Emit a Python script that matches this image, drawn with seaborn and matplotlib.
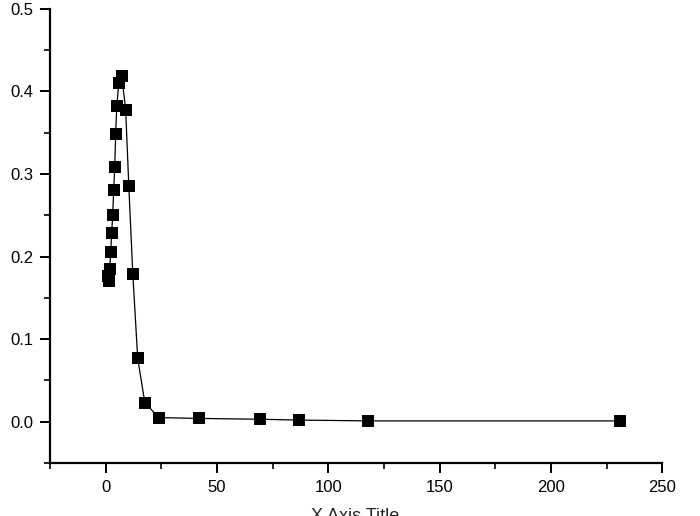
import pandas as pd
import seaborn as sns
import matplotlib.pyplot as plt
from matplotlib.ticker import MultipleLocator

# data
x_vals = [0.9, 1.4, 1.8, 2.3, 2.7, 3.2, 3.6, 4.1, 4.5, 5.0, 5.9, 7.2,
          9.0, 10.4, 12.2, 14.4, 17.6, 23.9, 42.0, 69.5, 87.0, 118.0, 231.0]
y_vals = [0.176, 0.170, 0.185, 0.206, 0.229, 0.251, 0.281, 0.309, 0.349, 0.382, 0.410, 0.419,
          0.378, 0.286, 0.179, 0.077, 0.023, 0.005, 0.004, 0.003, 0.002, 0.001, 0.001]

df = pd.DataFrame({'x': x_vals, 'y': y_vals})

sns.set_style('white')
plt.rcParams['font.family'] = ['Liberation Sans', 'DejaVu Sans']

fig = plt.figure(figsize=(7, 5.16), dpi=100)
ax = fig.add_axes([0.0714, 0.1027, 0.8746, 0.88])

sns.lineplot(data=df, x='x', y='y', sort=False, color='black', linewidth=0.9, ax=ax)
sns.scatterplot(data=df, x='x', y='y', marker='s', s=70, color='black',
                edgecolor='black', linewidth=0, ax=ax, zorder=3)

ax.set_xlim(-25, 250)
ax.set_ylim(-0.05, 0.5)
ax.xaxis.set_major_locator(MultipleLocator(50))
ax.xaxis.set_minor_locator(MultipleLocator(25))
ax.yaxis.set_major_locator(MultipleLocator(0.1))
ax.yaxis.set_minor_locator(MultipleLocator(0.05))
ax.yaxis.set_major_formatter(plt.FuncFormatter(lambda v, p: f'{v:.1f}'))

for s in ['top', 'right']:
    ax.spines[s].set_visible(False)
for s in ['left', 'bottom']:
    ax.spines[s].set_linewidth(1.6)
    ax.spines[s].set_color('black')

ax.tick_params(which='major', direction='out', length=7, width=1.4, labelsize=12,
               pad=5, left=True, bottom=True, colors='black')
ax.tick_params(which='minor', direction='out', length=4.5, width=1.4, left=True, bottom=True)
ax.set_xlabel('')
ax.set_ylabel('')

fig.text(0.507, 0.016, 'X Axis Title', ha='center', va='top', fontsize=13)

fig.savefig('out.png', dpi=100)
